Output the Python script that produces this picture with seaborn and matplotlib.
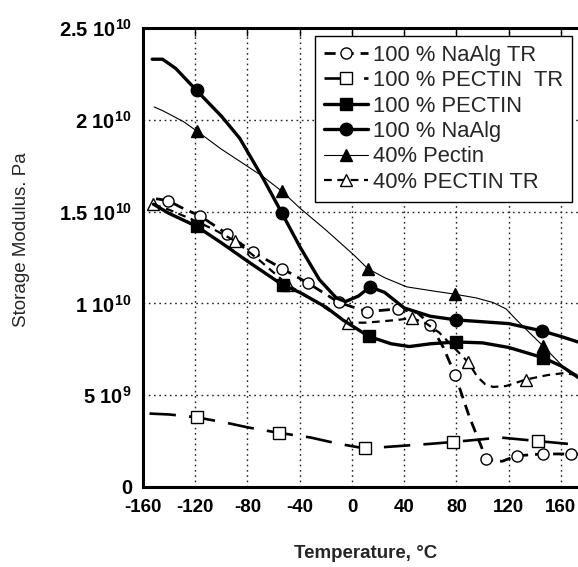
import matplotlib
matplotlib.use("Agg")
import matplotlib.pyplot as plt
import seaborn as sns
import pandas as pd

# Axis ticks and labels
temp_ticks = [-160, -120, -80, -40, 0, 40, 80, 120, 160]
modulus_ticks = [0, 5e9, 1e10, 1.5e10, 2e10, 2.5e10]
modulus_tick_labels = ["0", "5 10$^{9}$", "1 10$^{10}$", "1.5 10$^{10}$",
                       "2 10$^{10}$", "2.5 10$^{10}$"]

# Storage modulus curves, G' in units of 1e9 Pa; *_marks are indices that carry a symbol
naalg_tr_T = [-150, -141, -130, -116, -96, -76, -53.5, -33.5, -10, 11.5, 35, 50, 60, 70,
              79, 90, 103, 115, 126, 146, 168, 173]
naalg_tr_G = [15.7, 15.6, 15.2, 14.75, 13.8, 12.8, 11.9, 11.1, 10.05, 9.55, 9.7, 9.5, 8.85,
              7.6, 6.1, 3.8, 1.5, 1.4, 1.7, 1.8, 1.8, 1.8]
naalg_tr_marks = [1, 3, 4, 5, 6, 7, 8, 9, 10, 12, 14, 16, 18, 19, 20]

pectin_tr_T = [-155, -140, -119, -93, -80, -56, -32, -10, 10, 30, 60, 77, 100, 113, 142.5, 173]
pectin_tr_G = [4.0, 3.95, 3.8, 3.45, 3.25, 2.95, 2.7, 2.35, 2.1, 2.2, 2.35, 2.45, 2.6, 2.7,
               2.5, 2.3]
pectin_tr_marks = [2, 5, 8, 11, 14]

pectin_T = [-152, -140, -119, -100, -80, -53, -40, -20, -7, 13, 30, 44, 60, 80, 100, 120,
            146, 160, 173]
pectin_G = [15.4, 14.9, 14.2, 13.3, 12.3, 11.0, 10.6, 9.8, 9.1, 8.2, 7.8, 7.65, 7.8, 7.9,
            7.85, 7.6, 7.05, 6.6, 6.0]
pectin_marks = [2, 5, 9, 13, 16]

naalg_T = [-153, -145, -135, -119, -100, -86, -68, -53.5, -40, -25, -12, -5, 5, 13.8, 25,
           40, 60, 80, 100, 120, 145.5, 160, 173]
naalg_G = [23.3, 23.3, 22.8, 21.6, 20.2, 19.0, 16.8, 14.9, 13.1, 11.3, 10.3, 10.1, 10.4,
           10.9, 10.6, 9.75, 9.3, 9.1, 9.0, 8.9, 8.5, 8.2, 7.9]
naalg_marks = [3, 7, 13, 17, 20]

pect40_T = [-151.5, -145, -129, -119, -100, -85, -68, -53.5, -40, -20, 2, 12, 25, 42, 60,
            79, 95, 108, 118, 126, 136, 146, 157, 165, 173]
pect40_G = [20.7, 20.5, 19.9, 19.4, 18.4, 17.7, 16.9, 16.1, 15.2, 14.0, 12.6, 11.9, 11.4,
            10.9, 10.7, 10.5, 10.3, 10.05, 9.7, 9.1, 8.4, 7.7, 6.9, 6.3, 5.9]
pect40_marks = [3, 7, 11, 15, 21]

pect40_tr_T = [-152, -140, -120, -105, -89.5, -70, -49, -30, -15, -3, 10, 19, 35, 46, 57,
               67, 78, 89, 96, 102, 108, 118, 133, 150, 162, 173]
pect40_tr_G = [15.4, 15.1, 14.5, 14.0, 13.4, 12.3, 11.0, 10.2, 9.5, 8.95, 8.95, 9.0, 9.1,
               9.2, 8.9, 8.4, 7.6, 6.8, 6.0, 5.6, 5.45, 5.5, 5.85, 6.1, 6.2, 6.1]
pect40_tr_marks = [0, 4, 6, 9, 13, 17, 22]

series = [
    ("100 % NaAlg TR", naalg_tr_T, naalg_tr_G, naalg_tr_marks,
     dict(lw=2.0, linestyle=(0, (4, 2.5)), marker="o", ms=8, mfc="white", zorder=4)),
    ("100 % PECTIN  TR", pectin_tr_T, pectin_tr_G, pectin_tr_marks,
     dict(lw=1.9, linestyle=(0, (10, 5)), marker="s", ms=9, mfc="white", zorder=4)),
    ("100 % PECTIN", pectin_T, pectin_G, pectin_marks,
     dict(lw=2.4, linestyle="-", marker="s", ms=9, mfc="black", zorder=5)),
    ("100 % NaAlg", naalg_T, naalg_G, naalg_marks,
     dict(lw=2.4, linestyle="-", marker="o", ms=9, mfc="black", zorder=5)),
    ("40% Pectin", pect40_T, pect40_G, pect40_marks,
     dict(lw=0.8, linestyle="-", marker="^", ms=9, mfc="black", zorder=3)),
    ("40% PECTIN TR", pect40_tr_T, pect40_tr_G, pect40_tr_marks,
     dict(lw=1.6, linestyle=(0, (3.5, 2.5)), marker="^", ms=9, mfc="white", zorder=4)),
]

sns.set_style("white")
plt.rcParams["font.family"] = ["Liberation Sans", "DejaVu Sans"]
plt.rcParams["mathtext.fontset"] = "custom"
plt.rcParams["mathtext.rm"] = "Liberation Sans:bold"
plt.rcParams["mathtext.bf"] = "Liberation Sans:bold"
plt.rcParams["mathtext.default"] = "bf"

fig = plt.figure(figsize=(5.78, 5.67), dpi=100)
x_lo, x_hi = -160, 180
ax = fig.add_axes([143 / 578, 80 / 567, (x_hi - x_lo) * 1.306 / 578, 459 / 567])

handles = []
for label, T, G, marks, style in series:
    df = pd.DataFrame({"T": T, "G": [g * 1e9 for g in G]})
    n_before = len(ax.lines)
    sns.lineplot(data=df, x="T", y="G", ax=ax, sort=False, estimator=None,
                 color="black", mec="black", mew=1.0, markevery=marks, **style)
    line = ax.lines[n_before]
    line.set_label(label)
    handles.append(line)

ax.set_xlim(x_lo, x_hi)
ax.set_ylim(0, 2.5e10)
ax.set_xticks(temp_ticks)
ax.set_xticklabels([str(t) for t in temp_ticks], fontweight="bold", fontsize=13.5)
ax.set_yticks(modulus_ticks)
ax.set_yticklabels(modulus_tick_labels, fontweight="bold", fontsize=14.5)
ax.tick_params(axis="both", direction="in", length=6, width=1, top=True, right=False,
               pad=8, colors="black")
ax.tick_params(axis="x", pad=9)

ax.grid(True, color="#222222", linestyle=(0, (1.2, 2.6)), lw=1.0)
ax.set_axisbelow(True)
for side in ["left", "bottom", "top"]:
    ax.spines[side].set_linewidth(2.2)
    ax.spines[side].set_color("black")
ax.spines["right"].set_visible(False)

ax.set_xlabel("")
ax.set_ylabel("")
fig.text(366 / 578, 1 - 553 / 567, "Temperature, \u00b0C", ha="center", va="center",
         fontsize=13.5, fontweight="bold")
fig.text(22 / 578, 1 - 240 / 567, "Storage Modulus. Pa", ha="center", va="center",
         rotation=90, fontsize=13.5)

leg = ax.legend(handles=handles, loc="upper left",
                bbox_to_anchor=(315 / 578, 1 - 36 / 567), bbox_transform=fig.transFigure,
                borderaxespad=0, fontsize=15.8, frameon=True, fancybox=False,
                edgecolor="black", framealpha=1, handlelength=2.0, handletextpad=0.25,
                labelspacing=0.2, borderpad=0.4)
leg.get_frame().set_linewidth(1.0)

fig.savefig("out.png", dpi=100)
